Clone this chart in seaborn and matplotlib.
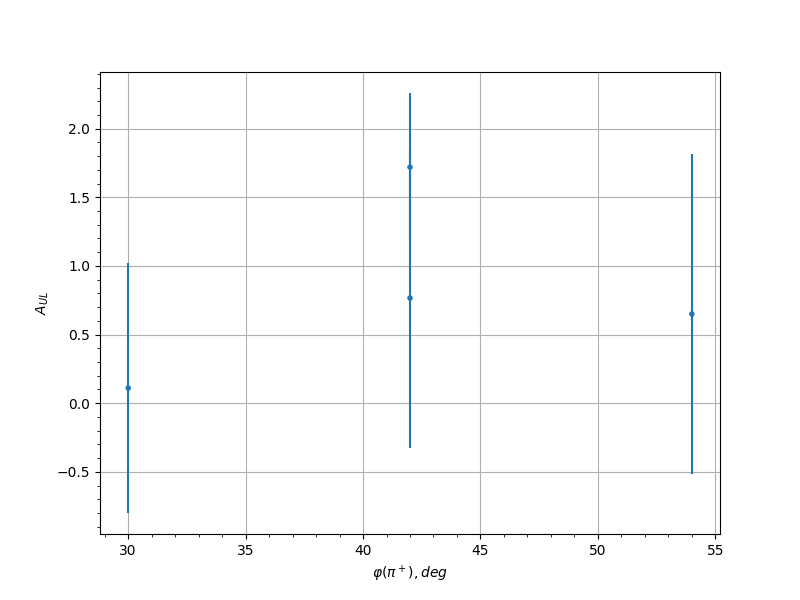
import matplotlib
matplotlib.use("Agg")
import matplotlib.pyplot as plt
import seaborn as sns
import pandas as pd

phi = [30, 42, 42, 54]
a_ul = [0.11, 1.72, 0.766, 0.65]
err = [0.91, 0.54, 1.09, 1.165]

df = pd.DataFrame({"phi": phi, "a_ul": a_ul, "err": err})

fig, ax = plt.subplots(figsize=(8, 6), dpi=100)
ax.errorbar(df["phi"], df["a_ul"], yerr=df["err"], fmt="none", ecolor="#1f77b4", elinewidth=1.5, zorder=2)
sns.scatterplot(data=df, x="phi", y="a_ul", ax=ax, color="#1f77b4", s=16, edgecolor="none", zorder=3)

ax.minorticks_on()
ax.grid(True, which="major", color="#b0b0b0", linewidth=0.8)
ax.set_axisbelow(True)
ax.set_xlabel(r"$\varphi(\pi^+), deg$")
ax.set_ylabel(r"$A_{UL}$")
fig.savefig("out.png", dpi=100)
